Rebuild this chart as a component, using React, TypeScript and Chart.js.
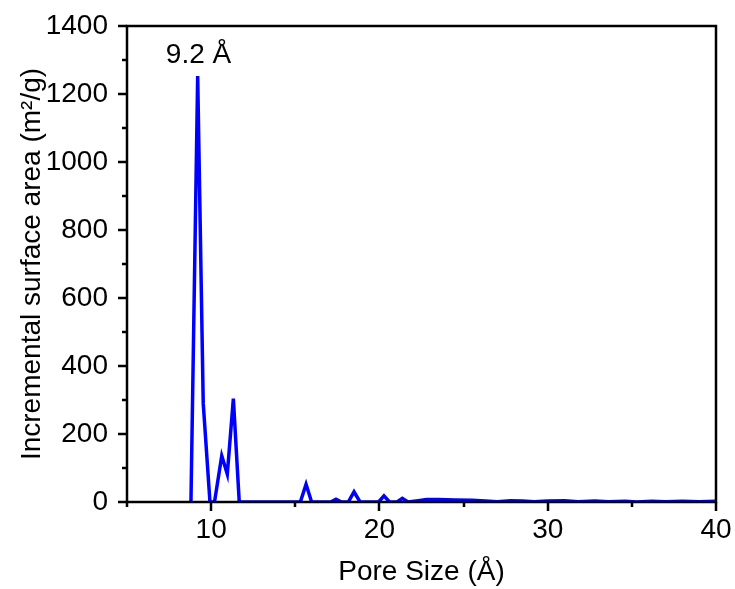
import React, { useEffect, useRef } from "react";
import { Chart, registerables } from "chart.js";

Chart.register(...registerables);

// Pore size (Å) and incremental surface area (m²/g)
const poreSize = [
  8.8, 9.2, 9.53, 9.93, 10.2, 10.63, 10.96, 11.32, 11.67,
  15.3, 15.64, 15.97, 17.1, 17.42, 17.75, 18.15, 18.49, 18.85,
  19.95, 20.27, 20.6, 21.05, 21.36, 21.7, 22.3, 22.8, 23.5, 24.5,
  25.5, 26.3, 27.0, 27.8, 28.5, 29.2, 30.0, 31.0, 31.8, 32.8,
  33.6, 34.6, 35.3, 36.2, 37.0, 38.0, 39.0, 40.0,
];
const surfaceArea = [
  0, 1253, 290, 0, 0, 136, 82, 304, 0,
  0, 52, 0, 0, 8, 0, 0, 30, 0,
  0, 18, 0, 0, 11, 0, 4, 7, 7, 6,
  5, 3, 1, 4, 3, 1, 3, 4, 1, 3,
  1, 2, 0, 2, 1, 2, 1, 2,
];

const xMajorTicks = [10, 20, 30, 40];
const xMinorTicks = [5, 15, 25, 35];
const yMajorTicks = [0, 200, 400, 600, 800, 1000, 1200, 1400];
const yMinorTicks = [100, 300, 500, 700, 900, 1100, 1300];

const peakLabel = "9.2 Å";
const peakLabelX = 9.25;
const peakLabelY = 1290;

const FONT = "'Liberation Sans', Arial, sans-serif";
const FS = 28;

export default function App() {
  const ref = useRef<HTMLCanvasElement | null>(null);

  useEffect(() => {
    const canvas = ref.current;
    if (!canvas) return;

    const framePlugin = {
      id: "frame",
      afterDraw(chart: any) {
        const { ctx, chartArea } = chart;
        const xs = chart.scales.x;
        const ys = chart.scales.y;
        ctx.save();
        ctx.strokeStyle = "#000";
        ctx.lineWidth = 2.5;
        ctx.strokeRect(chartArea.left, chartArea.top, chartArea.right - chartArea.left, chartArea.bottom - chartArea.top);
        ctx.beginPath();
        xMajorTicks.forEach((v) => {
          const p = Math.round(xs.getPixelForValue(v));
          ctx.moveTo(p, chartArea.bottom);
          ctx.lineTo(p, chartArea.bottom + 9);
        });
        xMinorTicks.forEach((v) => {
          const p = Math.round(xs.getPixelForValue(v));
          ctx.moveTo(p, chartArea.bottom);
          ctx.lineTo(p, chartArea.bottom + 5);
        });
        yMajorTicks.forEach((v) => {
          const p = Math.round(ys.getPixelForValue(v));
          ctx.moveTo(chartArea.left, p);
          ctx.lineTo(chartArea.left - 9, p);
        });
        yMinorTicks.forEach((v) => {
          const p = Math.round(ys.getPixelForValue(v));
          ctx.moveTo(chartArea.left, p);
          ctx.lineTo(chartArea.left - 5, p);
        });
        ctx.stroke();
        ctx.fillStyle = "#000";
        ctx.font = `${FS}px ${FONT}`;
        ctx.textAlign = "center";
        ctx.textBaseline = "alphabetic";
        ctx.fillText(peakLabel, xs.getPixelForValue(peakLabelX), ys.getPixelForValue(peakLabelY));
        ctx.restore();
      },
    };

    const zeroPad = (s: any) => {
      s.paddingTop = 0;
      s.paddingBottom = 0;
      s.paddingLeft = 0;
      s.paddingRight = 0;
    };

    const chart = new Chart(canvas, {
      type: "line",
      data: {
        datasets: [
          {
            data: poreSize.map((x, i) => ({ x, y: surfaceArea[i] })),
            borderColor: "#0000FF",
            borderWidth: 3.5,
            pointRadius: 0,
            tension: 0,
            fill: false,
          },
        ],
      },
      options: {
        responsive: false,
        animation: false,
        layout: { padding: { top: 26, right: 19, left: 0, bottom: 0 } },
        plugins: { legend: { display: false }, tooltip: { enabled: false } },
        scales: {
          x: {
            type: "linear",
            min: 5,
            max: 40,
            grid: { display: false, drawTicks: false },
            border: { display: false },
            afterFit: (s: any) => {
              s.height = 87;
              zeroPad(s);
            },
            afterBuildTicks: (s: any) => {
              s.ticks = xMajorTicks.map((v) => ({ value: v }));
            },
            ticks: {
              color: "#000",
              font: { family: FONT, size: FS },
              padding: 11,
              maxRotation: 0,
              callback: (v: any) => String(v),
            },
            title: {
              display: true,
              text: "Pore Size (Å)",
              color: "#000",
              font: { family: FONT, size: FS },
              padding: { top: 0, bottom: 0 },
            },
          },
          y: {
            min: 0,
            max: 1400,
            grid: { display: false, drawTicks: false },
            border: { display: false },
            afterFit: (s: any) => {
              s.width = 127;
              zeroPad(s);
            },
            afterBuildTicks: (s: any) => {
              s.ticks = yMajorTicks.map((v) => ({ value: v }));
            },
            ticks: {
              color: "#000",
              font: { family: FONT, size: FS },
              padding: 19,
              callback: (v: any) => String(v),
            },
            title: {
              display: true,
              text: "Incremental surface area (m²/g)",
              color: "#000",
              font: { family: FONT, size: FS },
              padding: { top: 15, bottom: 0 },
            },
          },
        },
      },
      plugins: [framePlugin],
    });

    return () => chart.destroy();
  }, []);

  return (
    <div style={{ position: "absolute", left: 0, top: 0, width: 735, height: 589, background: "#fff" }}>
      <canvas ref={ref} width={735} height={589} />
    </div>
  );
}
